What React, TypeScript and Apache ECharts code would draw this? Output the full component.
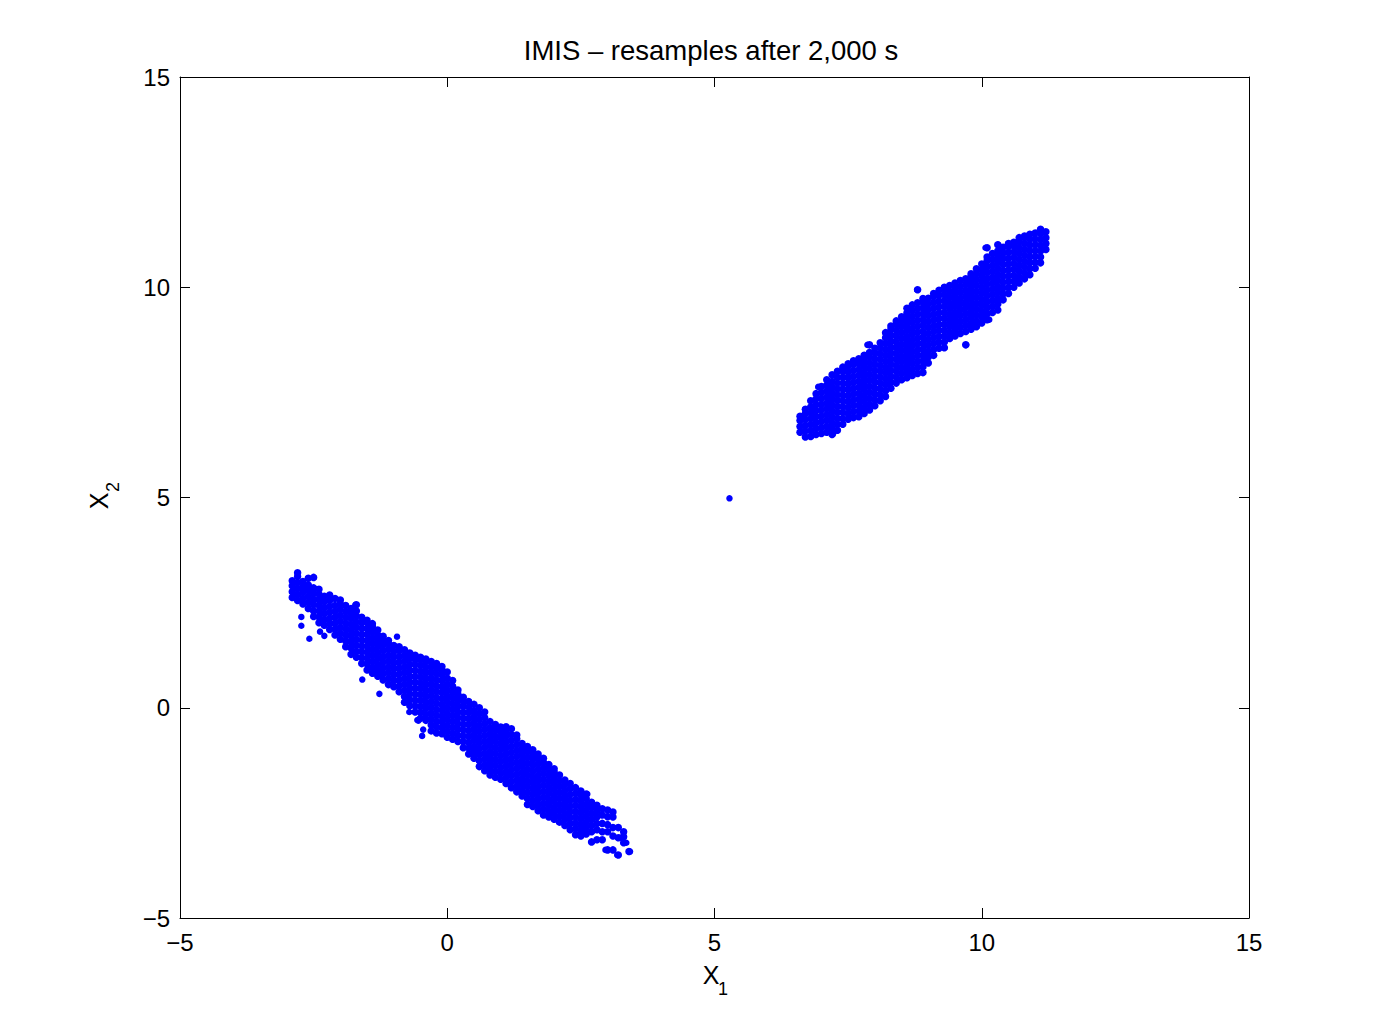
import React, { useEffect, useRef } from "react";
import * as echarts from "echarts";

// Tick values
const xTicks = [-5, 0, 5, 10, 15];
const yTicks = [-5, 0, 5, 10, 15];

// Lower (negatively correlated) cluster, read column by column: [x, y values]
const lowerClusterColumns: [number, number[]][] = [
  [-2.9, [2.62, 2.76, 2.9, 3.02]],
  [-2.8, [2.55, 2.69, 2.83, 2.97, 3.12, 3.21]],
  [-2.7, [2.47, 2.6, 2.74, 2.88, 3.0]],
  [-2.6, [2.36, 2.5, 2.64, 2.78, 2.92, 3.08]],
  [-2.5, [2.17, 2.3, 2.45, 2.58, 2.72, 2.85, 3.1]],
  [-2.4, [2.02, 2.16, 2.3, 2.44, 2.57, 2.7, 2.82]],
  [-2.3, [1.96, 2.1, 2.24, 2.38, 2.52, 2.65]],
  [-2.2, [1.86, 2.0, 2.13, 2.27, 2.41, 2.55, 2.68]],
  [-2.1, [1.73, 1.87, 2.01, 2.15, 2.29, 2.43, 2.6]],
  [-2.0, [1.63, 1.77, 1.91, 2.05, 2.19, 2.33, 2.47, 2.56]],
  [-1.9, [1.45, 1.59, 1.73, 1.87, 2.01, 2.15, 2.29, 2.43]],
  [-1.8, [1.27, 1.42, 1.56, 1.7, 1.84, 1.98, 2.12, 2.25, 2.36]],
  [-1.7, [1.2, 1.34, 1.48, 1.62, 1.76, 1.9, 2.04, 2.18, 2.3, 2.45]],
  [-1.6, [1.05, 1.19, 1.33, 1.47, 1.61, 1.75, 1.89, 2.02, 2.15]],
  [-1.5, [0.9, 1.04, 1.18, 1.32, 1.46, 1.6, 1.74, 1.88, 2.02, 2.08]],
  [-1.4, [0.82, 0.96, 1.1, 1.24, 1.38, 1.52, 1.66, 1.8, 1.94, 2.0]],
  [-1.3, [0.75, 0.89, 1.03, 1.17, 1.31, 1.45, 1.59, 1.73, 1.85]],
  [-1.2, [0.66, 0.8, 0.94, 1.08, 1.22, 1.36, 1.5, 1.62, 1.7]],
  [-1.1, [0.55, 0.69, 0.83, 0.97, 1.11, 1.25, 1.39, 1.52, 1.6]],
  [-1.0, [0.5, 0.64, 0.78, 0.92, 1.06, 1.2, 1.34, 1.48]],
  [-0.9, [0.38, 0.52, 0.66, 0.8, 0.94, 1.08, 1.22, 1.36, 1.45]],
  [-0.8, [0.13, 0.27, 0.41, 0.55, 0.69, 0.83, 0.97, 1.11, 1.25, 1.38]],
  [-0.7, [0.05, 0.19, 0.33, 0.47, 0.61, 0.75, 0.89, 1.03, 1.17, 1.3]],
  [-0.6, [-0.1, 0.04, 0.18, 0.32, 0.46, 0.6, 0.74, 0.88, 1.02, 1.15, 1.25]],
  [-0.5, [-0.25, -0.11, 0.03, 0.17, 0.31, 0.45, 0.59, 0.73, 0.87, 1.01, 1.14, 1.2]],
  [-0.4, [-0.3, -0.16, -0.02, 0.12, 0.26, 0.4, 0.54, 0.68, 0.82, 0.96, 1.1, 1.16]],
  [-0.3, [-0.55, -0.41, -0.27, -0.13, 0.01, 0.15, 0.29, 0.43, 0.57, 0.71, 0.85, 0.98, 1.1]],
  [-0.2, [-0.6, -0.46, -0.32, -0.18, -0.04, 0.1, 0.24, 0.38, 0.52, 0.66, 0.8, 0.94, 1.05]],
  [-0.1, [-0.62, -0.48, -0.34, -0.2, -0.06, 0.08, 0.22, 0.36, 0.5, 0.64, 0.78, 0.9, 0.98]],
  [0.0, [-0.7, -0.56, -0.42, -0.28, -0.14, 0.0, 0.14, 0.28, 0.42, 0.56, 0.7, 0.85]],
  [0.1, [-0.75, -0.61, -0.47, -0.33, -0.19, -0.05, 0.09, 0.23, 0.37, 0.51, 0.65]],
  [0.2, [-0.8, -0.66, -0.52, -0.38, -0.24, -0.1, 0.04, 0.18, 0.32, 0.42]],
  [0.3, [-0.95, -0.81, -0.67, -0.53, -0.39, -0.25, -0.11, 0.03, 0.15, 0.25]],
  [0.4, [-1.1, -0.96, -0.82, -0.68, -0.54, -0.4, -0.26, -0.12, 0.02, 0.15]],
  [0.5, [-1.2, -1.06, -0.92, -0.78, -0.64, -0.5, -0.36, -0.22, -0.08, 0.08]],
  [0.6, [-1.4, -1.26, -1.12, -0.98, -0.84, -0.7, -0.56, -0.42, -0.28, -0.14, 0.0]],
  [0.7, [-1.5, -1.36, -1.22, -1.08, -0.94, -0.8, -0.66, -0.52, -0.38, -0.24, -0.1]],
  [0.8, [-1.6, -1.46, -1.32, -1.18, -1.04, -0.9, -0.76, -0.62, -0.48, -0.33]],
  [0.9, [-1.65, -1.51, -1.37, -1.23, -1.09, -0.95, -0.81, -0.67, -0.53, -0.4]],
  [1.0, [-1.7, -1.56, -1.42, -1.28, -1.14, -1.0, -0.86, -0.72, -0.58, -0.46]],
  [1.1, [-1.8, -1.66, -1.52, -1.38, -1.24, -1.1, -0.96, -0.82, -0.68, -0.55, -0.45]],
  [1.2, [-1.9, -1.76, -1.62, -1.48, -1.34, -1.2, -1.06, -0.92, -0.78, -0.64, -0.5]],
  [1.3, [-2.0, -1.86, -1.72, -1.58, -1.44, -1.3, -1.16, -1.02, -0.88, -0.74, -0.65]],
  [1.4, [-2.1, -1.96, -1.82, -1.68, -1.54, -1.4, -1.26, -1.12, -0.98, -0.85]],
  [1.5, [-2.3, -2.16, -2.02, -1.88, -1.74, -1.6, -1.46, -1.32, -1.18, -1.04, -0.92]],
  [1.6, [-2.35, -2.21, -2.07, -1.93, -1.79, -1.65, -1.51, -1.37, -1.23, -1.1, -1.0]],
  [1.7, [-2.45, -2.31, -2.17, -2.03, -1.89, -1.75, -1.61, -1.47, -1.33, -1.2, -1.1]],
  [1.8, [-2.55, -2.41, -2.27, -2.13, -1.99, -1.85, -1.71, -1.57, -1.43, -1.3, -1.2]],
  [1.9, [-2.6, -2.46, -2.32, -2.18, -2.04, -1.9, -1.76, -1.62, -1.48, -1.35]],
  [2.0, [-2.65, -2.51, -2.37, -2.23, -2.09, -1.95, -1.81, -1.67, -1.53, -1.45]],
  [2.1, [-2.72, -2.58, -2.44, -2.3, -2.16, -2.02, -1.88, -1.74, -1.6]],
  [2.2, [-2.8, -2.66, -2.52, -2.38, -2.24, -2.1, -1.96, -1.82, -1.72]],
  [2.3, [-2.9, -2.76, -2.62, -2.48, -2.34, -2.2, -2.06, -1.92, -1.8]],
  [2.4, [-3.02, -2.88, -2.74, -2.6, -2.46, -2.32, -2.18, -2.04, -1.9]],
  [2.5, [-3.05, -2.92, -2.78, -2.64, -2.5, -2.36, -2.22, -2.08, -1.98]],
  [2.6, [-3.0, -2.86, -2.72, -2.58, -2.44, -2.3, -2.16, -2.05]],
  [2.7, [-3.19, -2.95, -2.8, -2.66, -2.52, -2.38, -2.25]],
  [2.8, [-3.14, -2.9, -2.75, -2.6, -2.45, -2.32]],
  [2.9, [-3.14, -2.95, -2.75, -2.55, -2.4]],
  [3.0, [-3.38, -2.95, -2.78, -2.59, -2.43]],
  [3.1, [-3.38, -3.05, -2.85, -2.6, -2.48]],
  [3.2, [-3.5, -3.09, -2.85]],
  [3.3, [-3.21, -3.07, -2.95]],
  [3.4, [-3.42]],
];

// Scattered single samples around the lower cluster: [x, y]
const lowerStrayPoints: [number, number][] = [
  [-2.73, 1.95], [-2.58, 1.64], [-2.73, 2.16], [-2.38, 1.81], [-2.3, 1.71],
  [-1.72, 2.45], [-0.94, 1.69], [-1.59, 0.67], [-1.27, 0.33], [-0.71, -0.1],
  [-0.54, -0.31], [-0.47, -0.67], [-0.56, -0.29], [-0.45, -0.52], [2.62, -2.05],
  [3.42, -3.42], [3.18, -3.5], [2.96, -3.38], [3.35, -3.21], [3.24, -3.09],
];

// Upper (positively correlated) cluster, read column by column: [x, y values]
const upperClusterColumns: [number, number[]][] = [
  [6.6, [6.55, 6.69, 6.83, 6.93]],
  [6.7, [6.44, 6.58, 6.72, 6.86, 7.0, 7.1]],
  [6.8, [6.45, 6.59, 6.73, 6.87, 7.01, 7.15, 7.3]],
  [6.9, [6.5, 6.64, 6.78, 6.92, 7.06, 7.2, 7.34, 7.47]],
  [7.0, [6.52, 6.66, 6.8, 6.94, 7.08, 7.22, 7.36, 7.5, 7.64]],
  [7.1, [6.55, 6.69, 6.83, 6.97, 7.11, 7.25, 7.39, 7.53, 7.67, 7.8]],
  [7.2, [6.5, 6.64, 6.78, 6.92, 7.06, 7.2, 7.34, 7.48, 7.62, 7.76, 7.92]],
  [7.3, [6.6, 6.74, 6.88, 7.02, 7.16, 7.3, 7.44, 7.58, 7.72, 7.86, 8.0]],
  [7.4, [6.74, 6.88, 7.02, 7.16, 7.3, 7.44, 7.58, 7.72, 7.86, 8.0, 8.1]],
  [7.5, [6.86, 7.0, 7.14, 7.28, 7.42, 7.56, 7.7, 7.84, 7.98, 8.12, 8.18]],
  [7.6, [6.9, 7.04, 7.18, 7.32, 7.46, 7.6, 7.74, 7.88, 8.02, 8.16, 8.25]],
  [7.7, [6.92, 7.06, 7.2, 7.34, 7.48, 7.62, 7.76, 7.9, 8.04, 8.18, 8.3]],
  [7.8, [7.0, 7.14, 7.28, 7.42, 7.56, 7.7, 7.84, 7.98, 8.12, 8.26, 8.38]],
  [7.9, [7.08, 7.22, 7.36, 7.5, 7.64, 7.78, 7.92, 8.06, 8.2, 8.34, 8.45, 8.63]],
  [8.0, [7.18, 7.32, 7.46, 7.6, 7.74, 7.88, 8.02, 8.16, 8.3, 8.44, 8.55]],
  [8.1, [7.3, 7.44, 7.58, 7.72, 7.86, 8.0, 8.14, 8.28, 8.42, 8.56, 8.68]],
  [8.2, [7.4, 7.54, 7.68, 7.82, 7.96, 8.1, 8.24, 8.38, 8.52, 8.66, 8.8, 8.92]],
  [8.3, [7.6, 7.74, 7.88, 8.02, 8.16, 8.3, 8.44, 8.58, 8.72, 8.86, 9.0, 9.08]],
  [8.4, [7.72, 7.86, 8.0, 8.14, 8.28, 8.42, 8.56, 8.7, 8.84, 8.98, 9.12, 9.2]],
  [8.5, [7.8, 7.94, 8.08, 8.22, 8.36, 8.5, 8.64, 8.78, 8.92, 9.06, 9.2, 9.3]],
  [8.6, [7.85, 7.99, 8.13, 8.27, 8.41, 8.55, 8.69, 8.83, 8.97, 9.11, 9.25, 9.39, 9.5]],
  [8.7, [7.9, 8.04, 8.18, 8.32, 8.46, 8.6, 8.74, 8.88, 9.02, 9.16, 9.3, 9.44, 9.58]],
  [8.8, [7.95, 8.09, 8.23, 8.37, 8.51, 8.65, 8.79, 8.93, 9.07, 9.21, 9.35, 9.49, 9.63, 9.94]],
  [8.9, [7.97, 8.11, 8.25, 8.39, 8.53, 8.67, 8.81, 8.95, 9.09, 9.23, 9.37, 9.51, 9.65, 9.73]],
  [9.0, [8.2, 8.34, 8.48, 8.62, 8.76, 8.9, 9.04, 9.18, 9.32, 9.46, 9.6, 9.74]],
  [9.1, [8.38, 8.52, 8.66, 8.8, 8.94, 9.08, 9.22, 9.36, 9.5, 9.64, 9.78, 9.85]],
  [9.2, [8.55, 8.69, 8.83, 8.97, 9.11, 9.25, 9.39, 9.53, 9.67, 9.81, 9.93]],
  [9.3, [8.56, 8.7, 8.84, 8.98, 9.12, 9.26, 9.4, 9.54, 9.68, 9.82, 9.96, 10.0]],
  [9.4, [8.78, 8.92, 9.06, 9.2, 9.34, 9.48, 9.62, 9.76, 9.9, 10.04]],
  [9.5, [8.84, 8.98, 9.12, 9.26, 9.4, 9.54, 9.68, 9.82, 9.96, 10.1]],
  [9.6, [8.9, 9.04, 9.18, 9.32, 9.46, 9.6, 9.74, 9.88, 10.02, 10.16]],
  [9.7, [8.63, 8.95, 9.09, 9.23, 9.37, 9.51, 9.65, 9.79, 9.93, 10.07, 10.2]],
  [9.8, [9.0, 9.14, 9.28, 9.42, 9.56, 9.7, 9.84, 9.98, 10.12, 10.26, 10.32]],
  [9.9, [9.06, 9.2, 9.34, 9.48, 9.62, 9.76, 9.9, 10.04, 10.18, 10.32, 10.44]],
  [10.0, [9.15, 9.29, 9.43, 9.57, 9.71, 9.85, 9.99, 10.13, 10.27, 10.41, 10.55]],
  [10.1, [9.23, 9.37, 9.51, 9.65, 9.79, 9.93, 10.07, 10.21, 10.35, 10.49, 10.63, 10.72, 10.94]],
  [10.2, [9.4, 9.54, 9.68, 9.82, 9.96, 10.1, 10.24, 10.38, 10.52, 10.66, 10.8]],
  [10.3, [9.46, 9.6, 9.74, 9.88, 10.02, 10.16, 10.3, 10.44, 10.58, 10.72, 10.86, 11.01]],
  [10.4, [9.7, 9.84, 9.98, 10.12, 10.26, 10.4, 10.54, 10.68, 10.82, 10.95]],
  [10.5, [9.85, 9.99, 10.13, 10.27, 10.41, 10.55, 10.69, 10.83, 10.97, 11.04]],
  [10.6, [10.0, 10.14, 10.28, 10.42, 10.56, 10.7, 10.84, 10.98, 11.07]],
  [10.7, [10.1, 10.24, 10.38, 10.52, 10.66, 10.8, 10.94, 11.08, 11.18]],
  [10.8, [10.2, 10.34, 10.48, 10.62, 10.76, 10.9, 11.04, 11.18, 11.22]],
  [10.9, [10.3, 10.44, 10.58, 10.72, 10.86, 11.0, 11.14, 11.26]],
  [11.0, [10.45, 10.59, 10.73, 10.87, 11.01, 11.15, 11.29]],
  [11.1, [10.58, 10.72, 10.86, 11.0, 11.14, 11.28, 11.38]],
  [11.2, [10.9, 11.04, 11.18, 11.32]],
];

// Scattered single samples around the upper cluster: [x, y]
const upperStrayPoints: [number, number][] = [
  [8.79, 9.94], [7.86, 8.63], [9.71, 8.63], [9.3, 8.56], [10.14, 9.23],
  [10.07, 10.94], [10.31, 11.01], [6.94, 7.63], [7.22, 6.52], [6.62, 6.92],
  [9.88, 9.06],
];

// Isolated sample between the clusters
const isolatedPoints: [number, number][] = [[5.28, 4.98]];

const TITLE = "IMIS – resamples after 2,000 s";
const FONT = "'Liberation Sans', Arial, Helvetica, sans-serif";

function columnsToPoints(cols: [number, number[]][]): [number, number][] {
  const out: [number, number][] = [];
  cols.forEach(([x, ys]) => ys.forEach((y) => out.push([x, y])));
  return out;
}

export default function App() {
  const ref = useRef<HTMLDivElement>(null);

  useEffect(() => {
    if (!ref.current) return;
    const chart = echarts.init(ref.current, undefined, { renderer: "svg" });

    const clusterPoints = [
      ...columnsToPoints(lowerClusterColumns),
      ...columnsToPoints(upperClusterColumns),
    ];
    const singlePoints = [...lowerStrayPoints, ...upperStrayPoints, ...isolatedPoints];

    const fmt = (v: number) => String(v).replace("-", "\u2212");
    const labelStyle = {
      color: "#000",
      fontFamily: FONT,
      fontSize: 24,
    };
    const axisCommon = {
      type: "value" as const,
      min: -5,
      max: 15,
      interval: 5,
      splitLine: { show: false },
      axisLine: { show: true, onZero: false, lineStyle: { color: "#000", width: 1 } },
      axisTick: { show: true, inside: true, length: 10, lineStyle: { color: "#000", width: 1 } },
    };

    chart.setOption({
      animation: false,
      backgroundColor: "#fff",
      grid: {
        left: 180,
        right: 132,
        top: 77,
        bottom: 116,
        containLabel: false,
        outerBoundsMode: "none",
      },
      xAxis: [
        {
          ...axisCommon,
          position: "bottom",
          axisLabel: { ...labelStyle, margin: 12, formatter: fmt, customValues: xTicks },
        },
        {
          ...axisCommon,
          position: "top",
          axisLabel: { show: false },
        },
      ],
      yAxis: [
        {
          ...axisCommon,
          position: "left",
          axisLabel: { ...labelStyle, margin: 10, formatter: fmt, customValues: yTicks },
        },
        {
          ...axisCommon,
          position: "right",
          axisLabel: { show: false },
        },
      ],
      series: [
        {
          type: "scatter",
          xAxisIndex: 0,
          yAxisIndex: 0,
          data: clusterPoints,
          symbol: "circle",
          symbolSize: 7.5,
          itemStyle: { color: "#0000ff", opacity: 1 },
          silent: true,
        },
        {
          type: "scatter",
          xAxisIndex: 0,
          yAxisIndex: 0,
          data: singlePoints,
          symbol: "circle",
          symbolSize: 6.5,
          itemStyle: { color: "#0000ff", opacity: 1 },
          silent: true,
        },
      ],
      graphic: [
        {
          type: "text",
          x: 711,
          y: 50,
          style: {
            text: TITLE,
            fill: "#000",
            font: `27.5px ${FONT}`,
            textAlign: "center",
            textVerticalAlign: "middle",
          },
        },
        {
          type: "text",
          x: 711,
          y: 975,
          style: {
            text: "X",
            fill: "#000",
            font: `25px ${FONT}`,
            textAlign: "center",
            textVerticalAlign: "middle",
          },
        },
        {
          type: "text",
          x: 723,
          y: 989,
          style: {
            text: "1",
            fill: "#000",
            font: `18px ${FONT}`,
            textAlign: "center",
            textVerticalAlign: "middle",
          },
        },
        {
          type: "text",
          x: 99,
          y: 501,
          rotation: Math.PI / 2,
          style: {
            text: "X",
            fill: "#000",
            font: `25px ${FONT}`,
            textAlign: "center",
            textVerticalAlign: "middle",
          },
        },
        {
          type: "text",
          x: 113,
          y: 487,
          rotation: Math.PI / 2,
          style: {
            text: "2",
            fill: "#000",
            font: `18px ${FONT}`,
            textAlign: "center",
            textVerticalAlign: "middle",
          },
        },
      ],
    });

    return () => chart.dispose();
  }, []);

  return (
    <div
      ref={ref}
      style={{ position: "fixed", left: 0, top: 0, width: 1381, height: 1034, background: "#fff" }}
    />
  );
}
